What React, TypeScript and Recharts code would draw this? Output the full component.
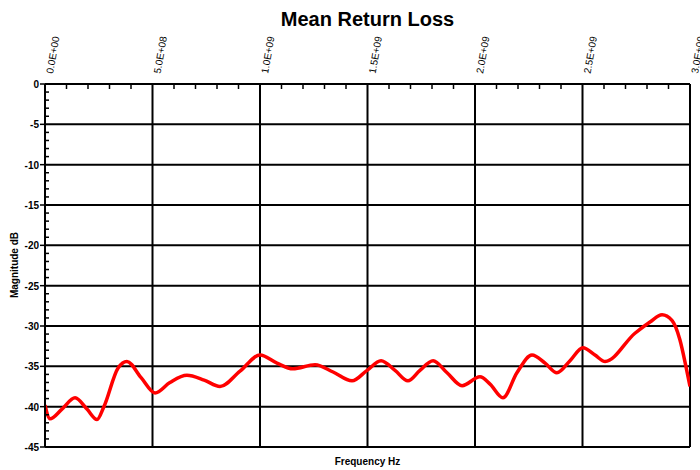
import React from 'react';
import { LineChart, Line, XAxis, YAxis, CartesianGrid } from 'recharts';

const frequencies = [
  0, 2.33e7, 7.9e7, 1.4e8, 1.95e8, 2.42e8, 2.74e8, 3.4e8, 3.81e8, 4.47e8,
  5.12e8, 5.81e8, 6.6e8, 7.4e8, 8.14e8, 9.07e8, 1.0e9, 1.079e9, 1.153e9, 1.256e9,
  1.34e9, 1.428e9, 1.498e9, 1.563e9, 1.628e9, 1.688e9, 1.744e9, 1.805e9, 1.87e9, 1.94e9,
  2.023e9, 2.07e9, 2.13e9, 2.195e9, 2.265e9, 2.326e9, 2.381e9, 2.442e9, 2.502e9, 2.558e9,
  2.605e9, 2.744e9, 2.814e9, 2.87e9, 2.916e9, 2.953e9, 2.981e9, 3.0e9,
];
const magnitudes = [
  -39.8, -41.5, -40.3, -38.9, -40.3, -41.6, -40.0, -35.2, -34.4, -36.4,
  -38.3, -37.0, -36.1, -36.7, -37.5, -35.6, -33.6, -34.6, -35.3, -34.8,
  -35.7, -36.8, -35.5, -34.3, -35.5, -36.8, -35.5, -34.3, -35.8, -37.4,
  -36.3, -37.2, -38.9, -35.8, -33.6, -34.6, -35.8, -34.3, -32.7, -33.6,
  -34.4, -30.9, -29.5, -28.6, -29.3, -31.7, -35.0, -37.5,
];

const xMajorTicks = [0, 5e8, 1e9, 1.5e9, 2e9, 2.5e9, 3e9];
const xTickLabels = ['0.0E+00', '5.0E+08', '1.0E+09', '1.5E+09', '2.0E+09', '2.5E+09', '3.0E+09'];
const yMajorTicks = [0, -5, -10, -15, -20, -25, -30, -35, -40, -45];
const yTickLabels = ['0', '-5', '-10', '-15', '-20', '-25', '-30', '-35', '-40', '-45'];

const xAllTicks = Array.from({ length: 31 }, (_, i) => i * 1e8);
const yAllTicks = Array.from({ length: 46 }, (_, i) => -i);

const data = frequencies.map((f, i) => ({ f, v: magnitudes[i] }));

const PLOT_LEFT = 45;
const PLOT_TOP = 84;
const FONT = '"Liberation Sans", Arial, sans-serif';

const renderXTick = (props: any) => {
  const { x, payload, index } = props;
  const v = payload.value;
  const idx = xMajorTicks.findIndex((m) => Math.abs(m - v) < 1);
  if (idx < 0) {
    return (
      <line key={`xt${index}`} x1={x} x2={x} y1={PLOT_TOP} y2={PLOT_TOP + 5} stroke="#000" strokeWidth={1.5} />
    );
  }
  const tx = x + 8;
  const ty = PLOT_TOP - 10;
  return (
    <text
      key={`xt${index}`}
      x={tx}
      y={ty}
      transform={`rotate(-80 ${tx} ${ty})`}
      textAnchor="start"
      fontFamily={FONT}
      fontSize={10}
      fill="#000"
    >
      {xTickLabels[idx]}
    </text>
  );
};

const renderYTick = (props: any) => {
  const { y, payload, index } = props;
  const v = payload.value;
  const idx = yMajorTicks.findIndex((m) => Math.abs(m - v) < 1e-6);
  if (idx < 0) {
    return (
      <line key={`yt${index}`} x1={PLOT_LEFT} x2={PLOT_LEFT + 4} y1={y} y2={y} stroke="#000" strokeWidth={1.5} />
    );
  }
  return (
    <g key={`yt${index}`}>
      <line x1={PLOT_LEFT - 5} x2={PLOT_LEFT} y1={y} y2={y} stroke="#000" strokeWidth={1.5} />
      <text
        x={PLOT_LEFT - 6}
        y={y + 4}
        textAnchor="end"
        fontFamily={FONT}
        fontSize={10}
        fontWeight="bold"
        fill="#000"
      >
        {yTickLabels[idx]}
      </text>
    </g>
  );
};

export default function App() {
  return (
    <div style={{ position: 'absolute', left: 0, top: 0, width: 700, height: 470, background: '#fff' }}>
      <LineChart
        width={700}
        height={470}
        data={data}
        margin={{ top: PLOT_TOP - 40, left: PLOT_LEFT - 30, right: 10, bottom: 23 }}
      >
        <CartesianGrid
          stroke="#000"
          strokeWidth={2}
          horizontalValues={yMajorTicks}
          verticalValues={xMajorTicks}
        />
        <XAxis
          dataKey="f"
          type="number"
          orientation="top"
          domain={[0, 3e9]}
          ticks={xAllTicks}
          interval={0}
          height={40}
          tickLine={false}
          axisLine={{ stroke: '#000', strokeWidth: 2 }}
          tick={renderXTick}
          allowDataOverflow
        />
        <YAxis
          type="number"
          domain={[-45, 0]}
          ticks={yAllTicks}
          interval={0}
          width={30}
          tickLine={false}
          axisLine={{ stroke: '#000', strokeWidth: 2 }}
          tick={renderYTick}
          allowDataOverflow
        />
        <Line
          type="monotone"
          dataKey="v"
          stroke="#ff0000"
          strokeWidth={3.5}
          dot={false}
          isAnimationActive={false}
        />
      </LineChart>
      <div
        style={{
          position: 'absolute', left: 0, top: 7, width: 735, textAlign: 'center',
          fontFamily: FONT, fontWeight: 'bold', fontSize: 20, color: '#000', lineHeight: '24px',
        }}
      >
        Mean Return Loss
      </div>
      <div
        style={{
          position: 'absolute', left: 0, top: 456, width: 735, textAlign: 'center',
          fontFamily: FONT, fontWeight: 'bold', fontSize: 10, color: '#000', lineHeight: '12px',
        }}
      >
        Frequency Hz
      </div>
      <div
        style={{
          position: 'absolute', left: 15 - 60, top: 265 - 6, width: 120, textAlign: 'center',
          transform: 'rotate(-90deg)', fontFamily: FONT, fontWeight: 'bold', fontSize: 10,
          color: '#000', lineHeight: '12px',
        }}
      >
        Magnitude dB
      </div>
    </div>
  );
}
